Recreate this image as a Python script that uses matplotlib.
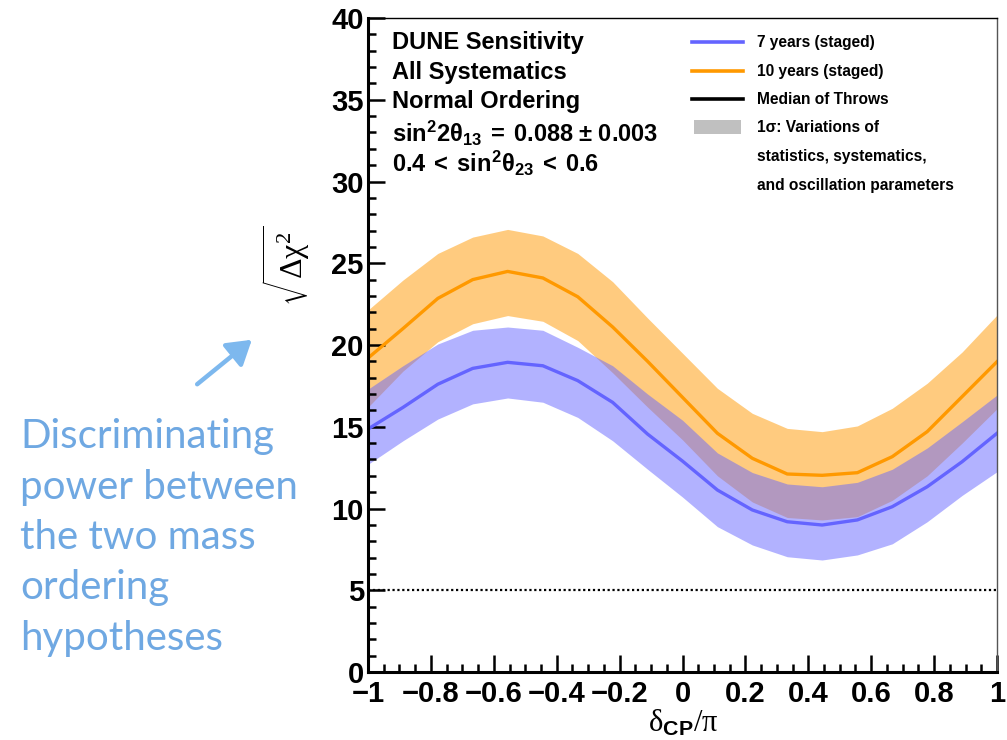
import numpy as np
import matplotlib
matplotlib.use("Agg")
import matplotlib.pyplot as plt
from matplotlib.lines import Line2D
from matplotlib.patches import Rectangle, FancyArrowPatch
from matplotlib.ticker import MultipleLocator

plt.rcParams['font.family'] = ['Liberation Sans', 'DejaVu Sans']
plt.rcParams['mathtext.fontset'] = 'custom'
plt.rcParams['mathtext.rm'] = 'Liberation Serif'
plt.rcParams['mathtext.it'] = 'Liberation Serif:italic'
plt.rcParams['mathtext.bf'] = 'Liberation Sans:bold'
plt.rcParams['mathtext.sf'] = 'Liberation Sans:bold'

# ---- data ----
delta_cp = [-1.0, -0.889, -0.778, -0.667, -0.556, -0.444, -0.333, -0.222, -0.111, 0.0,
            0.111, 0.222, 0.333, 0.444, 0.556, 0.667, 0.778, 0.889, 1.0]
y7_med = [14.86, 16.18, 17.6, 18.57, 18.94, 18.73, 17.82, 16.49, 14.55, 12.9,
          11.13, 9.91, 9.19, 8.99, 9.3, 10.11, 11.33, 12.86, 14.6]
y7_hi = [17.3, 18.73, 20.06, 20.9, 21.1, 20.9, 19.86, 18.73, 17.0, 15.4,
         13.4, 12.2, 11.5, 11.33, 11.6, 12.4, 13.7, 15.3, 16.94]
y7_lo = [12.7, 14.14, 15.47, 16.4, 16.76, 16.5, 15.57, 14.14, 12.4, 10.7,
         8.89, 7.77, 7.05, 6.85, 7.16, 7.84, 9.19, 10.8, 12.25]
y10_med = [19.2, 21.0, 22.85, 24.0, 24.5, 24.1, 22.95, 21.1, 19.0, 16.8,
           14.6, 13.07, 12.11, 12.03, 12.19, 13.17, 14.7, 16.84, 18.98]
y10_hi = [22.14, 23.97, 25.6, 26.6, 27.07, 26.67, 25.6, 23.87, 21.65, 19.5,
          17.35, 15.82, 14.9, 14.7, 15.05, 16.13, 17.66, 19.57, 21.83]
y10_lo = [16.2, 18.4, 20.2, 21.3, 21.8, 21.45, 20.27, 18.3, 16.2, 14.2,
          12.0, 10.4, 9.45, 9.3, 9.5, 10.5, 12.0, 14.0, 16.1]
threshold = 5
xticks = [-1, -0.8, -0.6, -0.4, -0.2, 0, 0.2, 0.4, 0.6, 0.8, 1]
xticklabels = ['\u22121', '\u22120.8', '\u22120.6', '\u22120.4', '\u22120.2', '0',
               '0.2', '0.4', '0.6', '0.8', '1']
yticks = [0, 5, 10, 15, 20, 25, 30, 35, 40]

info_lines = ['DUNE Sensitivity', 'All Systematics', 'Normal Ordering',
              r'$\mathbf{sin^{2}2\theta_{13}\ =\ 0.088\,\pm\,0.003}$',
              r'$\mathbf{0.4\ <\ sin^{2}\theta_{23}\ <\ 0.6}$']
legend_labels = ['7 years (staged)', '10 years (staged)', 'Median of Throws',
                 '1\u03c3: Variations of', 'statistics, systematics,',
                 'and oscillation parameters']
note_text = 'Discriminating\npower between\nthe two mass\nordering\nhypotheses'

BLUE = '#6464FF'
ORANGE = '#FF9900'

W, H = 1007, 740
fig = plt.figure(figsize=(W / 100, H / 100), dpi=100)
L, R, T, B = 368, 997, 18, 672
ax = fig.add_axes([L / W, 1 - B / H, (R - L) / W, (B - T) / H])

ax.fill_between(delta_cp, y10_lo, y10_hi, color=(1.0, 0.6, 0.0), alpha=0.5, lw=0)
ax.fill_between(delta_cp, y7_lo, y7_hi, color=(0.4, 0.4, 1.0), alpha=0.5, lw=0)
ax.plot(delta_cp, y7_med, color=BLUE, lw=2.4)
ax.plot(delta_cp, y10_med, color=ORANGE, lw=2.4)
ax.axhline(threshold, color='black', ls=(0, (1, 1.2)), lw=1.6)

ax.set_xlim(-1, 1)
ax.set_ylim(0, 40)
ax.set_xticks(xticks)
ax.set_xticklabels(xticklabels)
ax.set_yticks(yticks)
ax.xaxis.set_minor_locator(MultipleLocator(0.05))
ax.yaxis.set_minor_locator(MultipleLocator(1))
ax.tick_params(axis='both', which='major', direction='in', length=12, width=1.8,
               labelsize=21, top=False, right=False)
ax.tick_params(axis='both', which='minor', direction='in', length=6, width=1.8,
               top=False, right=False)
ax.tick_params(axis='y', which='major', pad=3)
ax.tick_params(axis='x', which='major', pad=6)
for lbl in ax.get_xticklabels() + ax.get_yticklabels():
    lbl.set_fontweight('bold')
ax.spines['left'].set_linewidth(2.2)
ax.spines['bottom'].set_linewidth(2.2)
ax.spines['top'].set_linewidth(1.0)
ax.spines['right'].set_linewidth(1.0)
ax.spines['right'].set_color('#555555')

# info block
info_y = [42, 72, 101, 133, 163]
for txt, py in zip(info_lines, info_y):
    ax.text((392 - L) / (R - L), (B - py) / (B - T), txt, transform=ax.transAxes,
            fontsize=17, fontweight='bold', ha='left', va='center')

# legend (manual)
leg_y = [42, 71, 99, 127, 156, 185]
hx0, hx1, tx = (692 - L) / (R - L), (743 - L) / (R - L), (757 - L) / (R - L)
handles = [BLUE, ORANGE, 'black']
for i, (txt, py) in enumerate(zip(legend_labels, leg_y)):
    yy = (B - py) / (B - T)
    if i < 3:
        ax.add_line(Line2D([hx0, hx1], [yy, yy], transform=ax.transAxes,
                           color=handles[i], lw=2.6, clip_on=False))
    elif i == 3:
        ax.add_patch(Rectangle((hx0 + 0.003, yy - 0.011), hx1 - hx0 - 0.006, 0.022,
                               transform=ax.transAxes, color='#C0C0C0', lw=0))
    ax.text(tx, yy, txt, transform=ax.transAxes, fontsize=11.2, fontweight='bold',
            ha='left', va='center')

# axis labels
fig.text(683 / W, 1 - 723 / H, r'$\mathrm{\delta}_{\mathbf{CP}}\mathrm{/\pi}$',
         fontsize=22, ha='center', va='center')
fig.text(286 / W, 1 - 266 / H, r'$\sqrt{\mathrm{\Delta\chi}^{2}}$',
         fontsize=23, rotation=90, ha='center', va='center')

# annotation
fig.text(20 / W, 1 - 418 / H, note_text, fontsize=29, family=['Lato', 'DejaVu Sans'],
         color='#6FA8E2', ha='left', va='top', linespacing=1.45)
arrow = FancyArrowPatch((195 / W, 1 - 386 / H), (254 / W, 1 - 338 / H),
                        transform=fig.transFigure, arrowstyle='-|>,head_length=8,head_width=5',
                        color='#7DB8EE', lw=3.2, mutation_scale=1.8)
fig.add_artist(arrow)

fig.savefig('out.png', dpi=100)
